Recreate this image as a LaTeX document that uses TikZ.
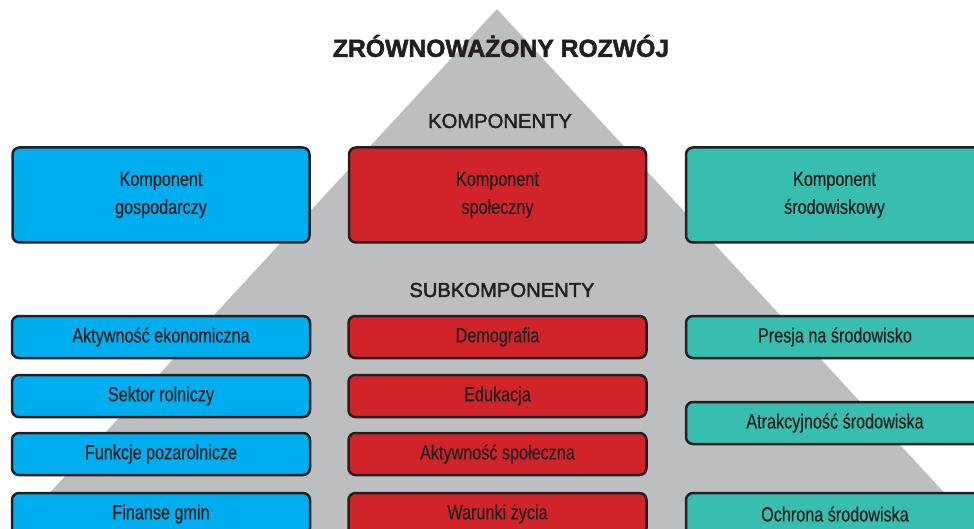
\documentclass[tikz,border=0pt]{standalone}
\usepackage{fontspec}
\setmainfont{Liberation Sans}
\newfontfamily\boxfont{Liberation Sans}[FakeStretch=0.79,FakeBold=0.4]
\newfontfamily\headfont{Liberation Sans}[FakeBold=2]
\newfontfamily\titlefont{Liberation Sans Bold}[FakeBold=2]
\usepackage{tikz}
\usetikzlibrary{positioning}

\definecolor{ciemny}{HTML}{231F20}
\definecolor{szary}{HTML}{BCBEC0}
\definecolor{niebieski}{HTML}{00AEEF}
\definecolor{czerwony}{HTML}{D1232A}
\definecolor{zielony}{HTML}{37BEAE}

\tikzset{
  komp/.style={draw=ciemny, line width=2.5pt, rounded corners=7pt, minimum width=297pt,
    minimum height=95pt, align=center, text=ciemny, inner sep=0pt,
    font=\boxfont\fontsize{20.5}{28}\selectfont},
  subkomp/.style={komp, minimum width=298pt, minimum height=42pt},
  naglowek/.style={text=ciemny, inner sep=0pt, font=\headfont\fontsize{20.2}{24}\selectfont}
}

\begin{document}
\begin{tikzpicture}[x=1pt,y=-1pt]
\clip (0,0) rectangle (974,529);

% piramida w tle
\fill[szary] (497,9) -- (1000,553) -- (-6,553) -- cycle;

\node[text=ciemny, inner sep=0pt, font=\titlefont\fontsize{24.7}{30}\selectfont] (tytul) at (501,46) {ZRÓWNOWAŻONY ROZWÓJ};

\node[naglowek] (komponenty) at (500,121) {KOMPONENTY};
\node[naglowek] (subkomponenty) at (502,290) {SUBKOMPONENTY};

% komponenty
\node[komp, fill=niebieski] (k-gosp) at (161,195) {Komponent\\gospodarczy};
\node[komp, fill=czerwony] (k-spol) at (497.5,195) {Komponent\\społeczny};
\node[komp, fill=zielony] (k-srod) at (834.5,195) {Komponent\\środowiskowy};

% subkomponenty - gospodarczy
\node[subkomp, fill=niebieski] (s-akte) at (161,337) {Aktywność ekonomiczna};
\node[subkomp, fill=niebieski] (s-rol) at (161,396) {Sektor rolniczy};
\node[subkomp, fill=niebieski] (s-poz) at (161,454) {Funkcje pozarolnicze};
\node[subkomp, fill=niebieski] (s-fin) at (161,514) {Finanse gmin};

% subkomponenty - spoleczny
\node[subkomp, fill=czerwony] (s-dem) at (497.5,337) {Demografia};
\node[subkomp, fill=czerwony] (s-edu) at (497.5,396) {Edukacja};
\node[subkomp, fill=czerwony] (s-akts) at (497.5,454) {Aktywność społeczna};
\node[subkomp, fill=czerwony] (s-war) at (497.5,514) {Warunki życia};

% subkomponenty - srodowiskowy
\node[subkomp, fill=zielony] (s-pres) at (835,337) {Presja na środowisko};
\node[subkomp, fill=zielony] (s-atr) at (835,423) {Atrakcyjność środowiska};
\node[subkomp, fill=zielony] (s-och) at (835,514) {Ochrona środowiska};
\end{tikzpicture}
\end{document}
